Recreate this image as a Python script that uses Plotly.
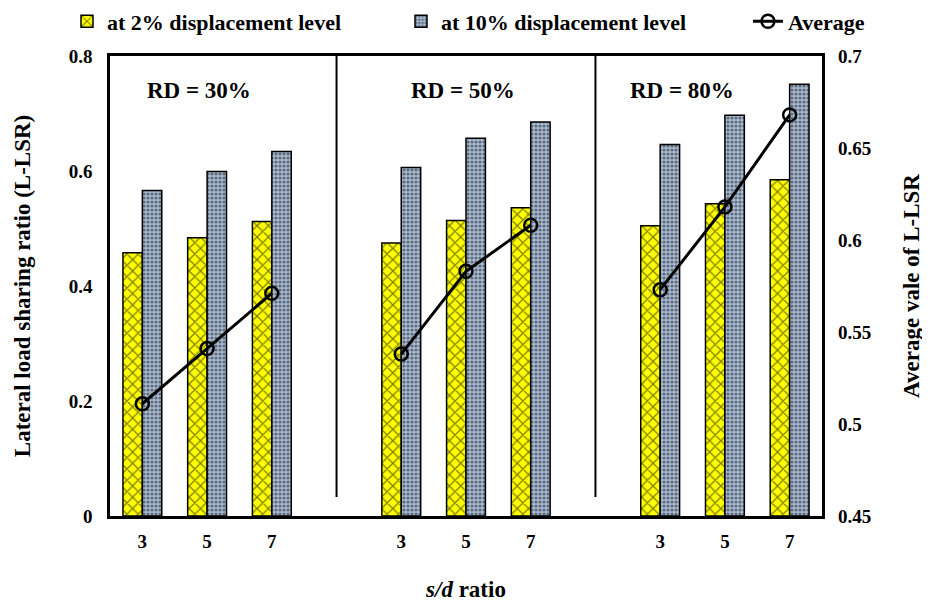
import plotly.graph_objects as go

groups = ["RD = 30%", "RD = 50%", "RD = 80%"]
sd_ratios = ["3", "5", "7"]
lsr_2pct = [[0.458, 0.484, 0.512], [0.475, 0.514, 0.536], [0.505, 0.543, 0.585]]
lsr_10pct = [[0.566, 0.599, 0.634], [0.606, 0.657, 0.685], [0.646, 0.697, 0.751]]
avg_lsr = [[0.511, 0.541, 0.571], [0.538, 0.583, 0.608], [0.573, 0.618, 0.668]]

FONT = "Liberation Serif, Times New Roman, serif"
step = len(sd_ratios) + 1  # one empty category between groups

xs, ticktext, y2, y10 = [], [], [], []
for g in range(len(groups)):
    for i, s in enumerate(sd_ratios):
        xs.append(g * step + i)
        ticktext.append(s)
        y2.append(lsr_2pct[g][i])
        y10.append(lsr_10pct[g][i])

fig = go.Figure()
fig.add_trace(go.Bar(
    x=xs, y=y2, name="at 2% displacement level", legend="legend2", showlegend=True,
    marker=dict(color="#FFFF00", line=dict(color="black", width=1.5),
                pattern=dict(shape="x", fgcolor="#000000", bgcolor="#FFFF00", size=8, solidity=0.3)),
))
fig.add_trace(go.Bar(
    x=xs, y=y10, name="at 10% displacement level", legend="legend3", showlegend=True,
    marker=dict(color="#A9BDD6", line=dict(color="black", width=1.5),
                pattern=dict(shape=".", fgcolor="#1a1a1a", bgcolor="#A9BDD6", size=4, solidity=0.5)),
))
for g in range(len(groups)):
    fig.add_trace(go.Scatter(
        x=[g * step + i for i in range(len(sd_ratios))], y=avg_lsr[g],
        yaxis="y2", mode="lines+markers", name="Average", showlegend=(g == 0),
        legend="legend4",
        line=dict(color="black", width=3),
        marker=dict(symbol="circle-open", size=13, color="black", line=dict(width=2.5)),
    ))

# group dividers and labels
for g in range(1, len(groups)):
    xd = g * step - 1
    fig.add_shape(type="line", xref="x", yref="y", x0=xd, x1=xd, y0=0.033, y1=0.8,
                  line=dict(color="black", width=2))
label_x = [0.88, 4.95, 8.33]
for g, name in enumerate(groups):
    fig.add_annotation(x=label_x[g], y=0.74, xref="x", yref="y", text="<b>%s</b>" % name,
                       showarrow=False, font=dict(family=FONT, size=23, color="black"))

legend_font = dict(family=FONT, size=22, color="black", weight="bold")
def leg(x, w):
    return dict(orientation="h", x=x, xanchor="left", y=1.075, yanchor="middle",
                font=legend_font, itemwidth=30, bgcolor="rgba(0,0,0,0)",
                entrywidth=w, entrywidthmode="pixels")

fig.update_layout(
    width=922, height=595,
    margin=dict(l=102, r=108, t=48, b=87, autoexpand=False),
    paper_bgcolor="white", plot_bgcolor="white",
    barmode="group", bargap=0.4, bargroupgap=0,
    font=dict(family=FONT, size=18, color="black"),
    showlegend=True,
    legend2=leg(-0.0604, 300), legend3=leg(0.4087, 300), legend4=leg(0.896, 120),
    xaxis=dict(range=[-0.5, (len(groups) - 1) * step + len(sd_ratios) - 0.5],
               tickvals=xs, ticktext=ticktext, showgrid=False, zeroline=False,
               showline=True, linecolor="black", linewidth=2.5, mirror=True,
               ticks="", ticklabelstandoff=6, tickfont=dict(family=FONT, size=19, weight="bold"),
               title=dict(text="<i>s/d</i> ratio", font=dict(family=FONT, size=23, weight="bold"),
                          standoff=31)),
    yaxis=dict(range=[0, 0.8], dtick=0.2, showgrid=False, zeroline=False,
               showline=True, linecolor="black", linewidth=2.5, mirror=True, ticks="",
               ticklabelstandoff=11, tickfont=dict(family=FONT, size=19, weight="bold"),
               title=dict(text="Lateral load sharing ratio (L-LSR)",
                          font=dict(family=FONT, size=23, weight="bold"), standoff=32)),
    yaxis2=dict(range=[0.45, 0.7], dtick=0.05, overlaying="y", side="right",
                showgrid=False, zeroline=False, showline=False, ticks="",
                ticklabelstandoff=15, tickfont=dict(family=FONT, size=19, weight="bold"),
                title=dict(text="Average vale of L-LSR",
                           font=dict(family=FONT, size=23, weight="bold"), standoff=32)),
)

fig.write_html("out.html")
